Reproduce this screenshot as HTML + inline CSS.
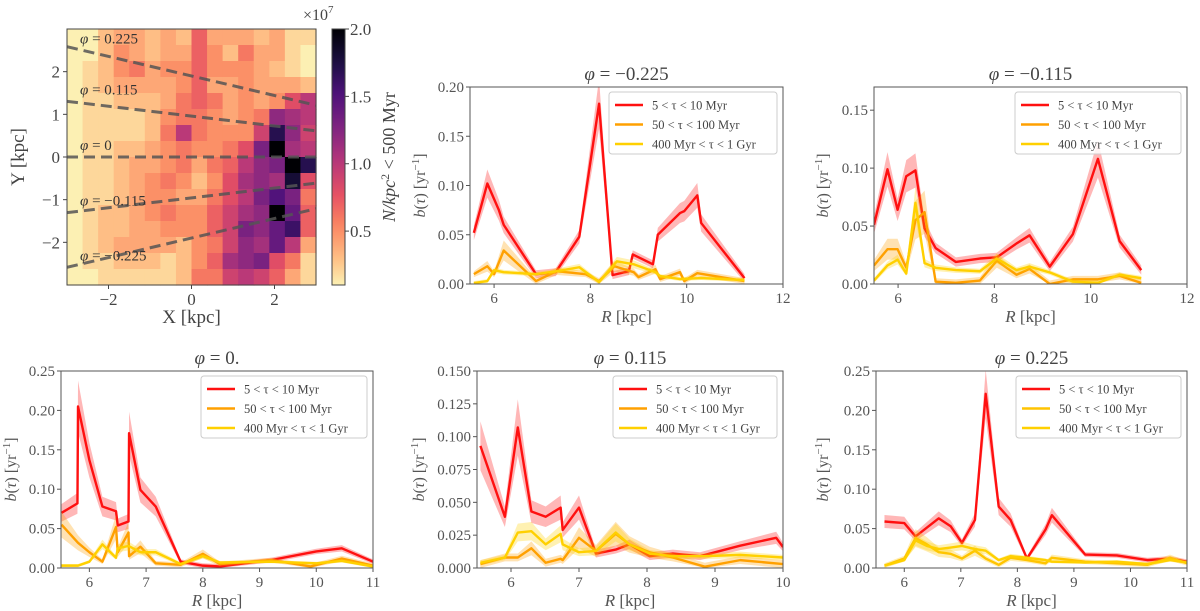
<!DOCTYPE html>
<html><head><meta charset="utf-8"><style>
html,body{margin:0;padding:0;background:#fff;}
svg{display:block;font-family:"Liberation Serif","DejaVu Serif",serif;}
</style></head><body>
<svg id="fig" width="1200" height="611" viewBox="0 0 1200 611" xmlns="http://www.w3.org/2000/svg"></svg>
<script>
// ---------- heatmap data (units of 1e6 N/kpc^2), rows top (Y=+3) to bottom (Y=-3), cols X=-3..3 ----------
const heatRows = [
[1,1,3,4,4,3,4,3,7,4,4,4,3,4,2,2],
[1,1,3,5,4,3,4,4,7,5,3,6,4,4,2,1],
[1,2,3,5,6,4,5,5,7,5,5,5,4,3,2,1],
[1,2,3,4,4,4,4,5,7,4,4,5,4,4,4,3],
[1,2,2,3,3,3,4,6,7,6,4,5,4,5,8,10],
[1,2,2,2,2,3,5,6,6,5,4,5,6,12,11,10],
[1,2,2,2,2,3,6,10,6,5,5,5,9,17,12,9],
[1,2,2,3,3,4,5,6,5,5,6,8,13,20,11,10],
[1,2,2,3,4,4,5,6,4,6,7,10,12,13,20,17],
[1,2,2,3,4,5,6,5,3,5,8,11,12,11,18,8],
[1,2,2,3,4,5,5,4,4,6,8,10,13,15,13,6],
[1,2,3,3,4,5,6,5,5,7,9,11,12,20,14,7],
[1,2,3,3,4,4,5,5,5,7,9,13,12,14,16,7],
[1,2,3,4,4,4,4,3,5,6,9,12,11,14,10,4],
[1,2,2,3,3,3,2,3,5,7,11,12,13,8,6,2],
[1,1,2,2,2,2,2,3,6,6,9,10,9,7,4,2]
];
const phiLines = [0.225,0.115,0,-0.115,-0.225];
const phiLabels = ["0.225","0.115","0","−0.115","−0.225"];
const heatXTicks = [-2,0,2];
const heatYTicks = [2,1,0,-1,-2];
const cbTicks = [0.5,1.0,1.5,2.0];

// ---------- panel A: phi = -0.225 ----------
const rA_red=[5.58,5.86,6.1,6.2,6.87,7.28,7.77,8.18,8.46,8.8,8.88,9.3,9.4,9.86,9.95,10.22,10.3,11.2];
const vA_red=[0.052,0.102,0.075,0.06,0.01,0.012,0.048,0.183,0.009,0.013,0.03,0.02,0.05,0.072,0.074,0.09,0.062,0.006];
const rA_or=[5.58,5.86,6.0,6.2,6.87,7.3,7.9,8.18,8.5,8.9,9.0,9.35,9.45,9.86,9.95,10.22,11.2];
const vA_or=[0.01,0.018,0.01,0.034,0.003,0.013,0.01,0.003,0.018,0.012,0.007,0.015,0.005,0.012,0.003,0.011,0.003];
const rA_ye=[5.58,5.86,6.0,6.2,6.87,7.3,7.77,8.18,8.55,8.9,9.35,9.45,9.86,10.3,11.2];
const vA_ye=[0.001,0.003,0.014,0.012,0.01,0.013,0.017,0.002,0.023,0.02,0.012,0.008,0.005,0.006,0.004];
// ---------- panel B: phi = -0.115 ----------
const rB=[5.5,5.78,5.99,6.17,6.36,6.55,6.78,7.2,7.7,8.05,8.46,8.73,9.15,9.63,10.15,10.6,11.05];
const vB_red=[0.051,0.099,0.064,0.093,0.098,0.048,0.031,0.019,0.022,0.023,0.035,0.042,0.015,0.043,0.108,0.037,0.012];
const vB_or=[0.016,0.03,0.03,0.014,0.055,0.062,0.002,0.001,0.003,0.02,0.008,0.013,0.0,0.004,0.004,0.007,0.001];
const vB_ye=[0.003,0.016,0.021,0.009,0.07,0.018,0.014,0.012,0.011,0.022,0.012,0.015,0.01,0.002,0.001,0.008,0.005];
// ---------- panel C: phi = 0 ----------
const rC_red=[5.51,5.79,5.8,6.0,6.23,6.47,6.5,6.69,6.7,6.9,7.17,7.61,8.0,8.3,9.2,10.0,10.45,11.0];
const vC_red=[0.07,0.082,0.205,0.137,0.078,0.072,0.054,0.059,0.171,0.099,0.078,0.008,0.003,0.002,0.01,0.021,0.025,0.008];
const rC_or=[5.51,5.8,6.0,6.23,6.47,6.5,6.69,6.7,6.9,7.17,7.61,8.0,8.3,9.2,9.9,10.45,11.0];
const vC_or=[0.055,0.032,0.02,0.008,0.052,0.02,0.045,0.015,0.027,0.006,0.004,0.018,0.005,0.01,0.002,0.012,0.003];
const rC_ye=[5.51,5.8,6.0,6.23,6.47,6.5,6.69,6.9,7.17,7.61,8.0,8.3,9.2,10.0,10.45,11.0];
const vC_ye=[0.003,0.003,0.008,0.03,0.013,0.025,0.028,0.02,0.02,0.005,0.015,0.007,0.008,0.006,0.009,0.002];
// ---------- panel D: phi = 0.115 ----------
const rD_red=[5.55,5.91,6.1,6.3,6.51,6.73,6.76,7.0,7.25,7.54,7.74,8.04,8.38,8.78,9.37,9.9,10.0];
const vD_red=[0.093,0.039,0.107,0.043,0.039,0.046,0.029,0.046,0.011,0.014,0.018,0.009,0.011,0.009,0.017,0.023,0.016];
const rD=[5.55,5.91,6.1,6.3,6.51,6.73,6.76,7.0,7.25,7.54,7.74,8.04,8.38,8.85,9.37,10.0];
const vD_or=[0.003,0.008,0.008,0.015,0.004,0.007,0.006,0.023,0.013,0.026,0.018,0.012,0.008,0.001,0.006,0.003];
const vD_ye=[0.004,0.008,0.027,0.028,0.018,0.026,0.018,0.012,0.013,0.027,0.018,0.011,0.009,0.009,0.01,0.008];
// ---------- panel E: phi = 0.225 ----------
const rE_red=[5.65,6.0,6.2,6.61,6.82,7.02,7.25,7.44,7.67,7.88,8.17,8.5,8.61,9.2,9.76,10.3,10.7,11.0];
const vE_red=[0.059,0.057,0.04,0.063,0.053,0.032,0.061,0.221,0.078,0.061,0.012,0.049,0.067,0.017,0.016,0.01,0.012,0.008];
const rE=[5.65,6.0,6.2,6.4,6.61,6.82,7.02,7.25,7.44,7.67,7.88,8.17,8.5,8.61,9.2,9.76,10.3,10.7,11.0];
const vE_or=[0.003,0.012,0.038,0.03,0.02,0.018,0.012,0.022,0.012,0.004,0.013,0.01,0.006,0.013,0.008,0.006,0.004,0.013,0.006];
const vE_ye=[0.003,0.01,0.035,0.028,0.024,0.026,0.028,0.024,0.022,0.01,0.015,0.013,0.01,0.008,0.007,0.008,0.005,0.01,0.007];

const yTicks20=[0,0.05,0.10,0.15,0.20]; const yLab20=["0.00","0.05","0.10","0.15","0.20"];
const yTicks15=[0,0.05,0.10,0.15]; const yLab15=["0.00","0.05","0.10","0.15"];
const yTicks25=[0,0.05,0.10,0.15,0.20,0.25]; const yLab25=["0.00","0.05","0.10","0.15","0.20","0.25"];
const yTicksD=[0,0.025,0.05,0.075,0.10,0.125,0.15]; const yLabD=["0.000","0.025","0.050","0.075","0.100","0.125","0.150"];
const xTicks12=[6,8,10,12]; const xTicks11=[6,7,8,9,10,11]; const xTicks10=[6,7,8,9,10];
const legendLabels=["5 < τ < 10 Myr","50 < τ < 100 Myr","400 Myr < τ < 1 Gyr"];

const NS='http://www.w3.org/2000/svg';
const svg=document.getElementById('fig');
function mk(tag,attrs,parent){const e=document.createElementNS(NS,tag);for(const k in attrs)e.setAttribute(k,attrs[k]);(parent||svg).appendChild(e);return e;}
function txt(s,attrs,parent){const e=mk('text',attrs,parent);e.textContent=s;return e;}

// ---------- magma_r colormap ----------
const magma=[[0,0,0,4],[0.13,28,16,68],[0.25,79,18,123],[0.38,129,37,129],[0.5,181,54,122],[0.63,229,80,100],[0.75,251,135,97],[0.88,254,194,135],[1,252,253,191]];
const CMIN=0.5, CMAX=20;
function cmap(v){let t=1-Math.max(0,Math.min(1,(v-CMIN)/(CMAX-CMIN)));
 for(let i=1;i<magma.length;i++){if(t<=magma[i][0]){const a=magma[i-1],b=magma[i],f=(t-a[0])/(b[0]-a[0]);
 return `rgb(${Math.round(a[1]+f*(b[1]-a[1]))},${Math.round(a[2]+f*(b[2]-a[2]))},${Math.round(a[3]+f*(b[3]-a[3]))})`;}}return 'rgb(252,253,191)';}

// ---------- heatmap panel ----------
(function(){
 const L=67,Rt=316,T=29,B=285;
 const hx=x=>L+(x+3)/6*(Rt-L), hy=y=>T+(3-y)/6*(B-T);
 const g=mk('g',{});
 
 
 const cw=(Rt-L)/16, ch=(B-T)/16;
 heatRows.forEach((row,i)=>row.forEach((v,j)=>{
  const r=mk('rect',{x:L+j*cw,y:T+i*ch,width:cw+0.6,height:ch+0.6,fill:cmap(v)},g);
  
  
 }));
 const clip=mk('clipPath',{id:'hclip'},g);mk('rect',{x:L,y:T,width:Rt-L,height:B-T},clip);
 const lg=mk('g',{'clip-path':'url(#hclip)'},g);
 phiLines.forEach((p,i)=>{
  const k=Math.tan(p), X0=8.3;
  const ln=mk('line',{x1:hx(-3),y1:hy(k*(X0+3)),x2:hx(3),y2:hy(k*(X0-3)),stroke:'#555',"stroke-opacity":0.85,'stroke-width':3,'stroke-dasharray':'11,6'},lg);
  
  
  const t=txt('',{x:80,y:hy(k*(X0+3))-7+(i==0?4:0),'font-size':15,fill:'#333'},g);
  t.innerHTML='<tspan font-style="italic">φ</tspan> = '+phiLabels[i];
  
  
 });
 const fr=mk('rect',{x:L,y:T,width:Rt-L,height:B-T,fill:'none',stroke:'#444','stroke-width':1},g);
 
 
 heatXTicks.forEach(v=>{mk('line',{x1:hx(v),x2:hx(v),y1:B,y2:B+4,stroke:'#444'},g);
  const t=txt(v<0?'−'+(-v):String(v),{x:hx(v),y:B+20,'font-size':17,'text-anchor':'middle',fill:'#444'},g);
  });
 heatYTicks.forEach(v=>{mk('line',{x1:L-4,x2:L,y1:hy(v),y2:hy(v),stroke:'#444'},g);
  const t=txt(v<0?'−'+(-v):String(v),{x:L-7,y:hy(v)+6,'font-size':17,'text-anchor':'end',fill:'#444'},g);
  });
 const xl=txt('X [kpc]',{x:(L+Rt)/2,y:323,'font-size':19,'text-anchor':'middle',fill:'#444'},g);
 
 const yl=txt('Y [kpc]',{x:0,y:0,'font-size':19,'text-anchor':'middle',fill:'#444',transform:`translate(24,${(T+B)/2}) rotate(-90)`},g);
 
 // colorbar
 const defs=mk('defs',{},g);const lgd=mk('linearGradient',{id:'cbg',x1:0,y1:1,x2:0,y2:0},defs);
 for(let i=0;i<=20;i++){const v=1+i*19/20;mk('stop',{offset:i/20,'stop-color':cmap(v)},lgd);}
 const cb=mk('rect',{x:332,y:T,width:13,height:B-T,fill:'url(#cbg)',stroke:'#444'},g);
 
 const cy=v=>B-(v*10-1)/(20-1)*(B-T);
 cbTicks.forEach(v=>{mk('line',{x1:345,x2:349,y1:cy(v),y2:cy(v),stroke:'#444'},g);
  const t=txt(v.toFixed(1),{x:350,y:cy(v)+6,'font-size':17,fill:'#444'},g);
  });
 const sc=txt('',{x:303,y:20,'font-size':16,fill:'#444'},g);
 sc.innerHTML='×10<tspan dy="-7" font-size="11">7</tspan>';
 
 const cl=txt('',{x:0,y:0,'font-size':18,'text-anchor':'middle',fill:'#444',transform:`translate(395,${(T+B)/2}) rotate(-90)`},g);
 cl.innerHTML='<tspan font-style="italic">N/kpc</tspan><tspan dy="-6" font-size="12">2</tspan><tspan dy="6"> &lt; 500 Myr</tspan>';
 
})();

// ---------- line panels ----------
function panel(c){
 const g=mk('g',{});
 
 
 const sx=x=>c.L+(x-c.xmin)/(c.xmax-c.xmin)*(c.R-c.L), sy=y=>c.B-y/c.ymax*(c.B-c.T);
 const cid='clip-'+c.name;const cp=mk('clipPath',{id:cid},g);mk('rect',{x:c.L,y:c.T,width:c.R-c.L,height:c.B-c.T},cp);
 const pg=mk('g',{'clip-path':`url(#${cid})`},g);
 c.series.forEach((s,si)=>{
  const err=s.v.map(v=>Math.max(s.ef*v,s.ea));
  const up=s.r.map((r,i)=>sx(r)+','+sy(s.v[i]+err[i]));
  const dn=s.r.map((r,i)=>sx(r)+','+sy(Math.max(0,s.v[i]-err[i]))).reverse();
  const band=mk('polygon',{points:up.concat(dn).join(' '),fill:s.col,'fill-opacity':0.3,stroke:'none'},pg);
  
  
  const ln=mk('polyline',{points:s.r.map((r,i)=>sx(r)+','+sy(s.v[i])).join(' '),fill:'none',stroke:s.col,'stroke-width':2.4,'stroke-linejoin':'round'},pg);
  
  
 });
 const fr=mk('rect',{x:c.L,y:c.T,width:c.R-c.L,height:c.B-c.T,fill:'none',stroke:'#555','stroke-width':1},g);
 
 c.xt.forEach(v=>{mk('line',{x1:sx(v),x2:sx(v),y1:c.B,y2:c.B+4,stroke:'#555'},g);
  const t=txt(String(v),{x:sx(v),y:c.B+19,'font-size':15,'text-anchor':'middle',fill:'#555'},g);
  });
 c.yt.forEach((v,i)=>{mk('line',{x1:c.L-4,x2:c.L,y1:sy(v),y2:sy(v),stroke:'#555'},g);
  const t=txt(c.yl[i],{x:c.L-6,y:sy(v)+5,'font-size':15,'text-anchor':'end',fill:'#555'},g);
  });
 const xl=txt('',{x:(c.L+c.R)/2,y:c.B+38,'font-size':17,'text-anchor':'middle',fill:'#555'},g);
 xl.innerHTML='<tspan font-style="italic">R</tspan> [kpc]';
 
 const yl=txt('',{x:0,y:0,'font-size':16,'text-anchor':'middle',fill:'#555',transform:`translate(${c.ylx},${(c.T+c.B)/2}) rotate(-90)`},g);
 yl.innerHTML='<tspan font-style="italic">b</tspan>(<tspan font-style="italic">τ</tspan>) [yr<tspan dy="-6" font-size="11">−1</tspan><tspan dy="6">]</tspan>';
 
 const ti=txt('',{x:(c.L+c.R)/2,y:c.T-7,'font-size':19,'text-anchor':'middle',fill:'#444'},g);
 ti.innerHTML='<tspan font-style="italic">φ</tspan> = '+c.title;
 
 const lgG=mk('g',{},g);
 
 
 mk('rect',{x:c.lx,y:c.T+5,width:c.R-c.lx-6,height:62,rx:3,fill:'#fff','fill-opacity':0.85,stroke:'#ccc'},lgG);
 c.series.forEach((s,si)=>{const y=c.T+18+si*19.5;
  const e=mk('g',{},lgG);
  
  
  mk('line',{x1:c.lx+6,x2:c.lx+34,y1:y,y2:y,stroke:s.col,'stroke-width':2.4},e);
  txt(legendLabels[si],{x:c.lx+43,y:y+4.5,'font-size':12.5,fill:'#444'},e);
 });
}
const RED='#ff1010',ORG='#ffa000',YEL='#ffd000';
panel({name:'panel-phi-m0225',title:'−0.225',L:470,R:783,T:87,B:284,xmin:5.5,xmax:12,ymax:0.2,xt:xTicks12,yt:yTicks20,yl:yLab20,ylx:425,lx:609,
 series:[{r:rA_red,v:vA_red,col:RED,ef:0.14,ea:0.004},{r:rA_or,v:vA_or,col:ORG,ef:0.3,ea:0.003},{r:rA_ye,v:vA_ye,col:YEL,ef:0.2,ea:0.002}]});
panel({name:'panel-phi-m0115',title:'−0.115',L:874,R:1187,T:87,B:284,xmin:5.5,xmax:12,ymax:0.17,xt:xTicks12,yt:yTicks15,yl:yLab15,ylx:828,lx:1015,
 series:[{r:rB,v:vB_red,col:RED,ef:0.15,ea:0.004},{r:rB,v:vB_or,col:ORG,ef:0.3,ea:0.003},{r:rB,v:vB_ye,col:YEL,ef:0.2,ea:0.002}]});
panel({name:'panel-phi-0',title:'0.',L:61,R:373,T:371,B:568,xmin:5.5,xmax:11,ymax:0.25,xt:xTicks11,yt:yTicks25,yl:yLab25,ylx:16,lx:201,
 series:[{r:rC_red,v:vC_red,col:RED,ef:0.16,ea:0.003},{r:rC_or,v:vC_or,col:ORG,ef:0.3,ea:0.003},{r:rC_ye,v:vC_ye,col:YEL,ef:0.2,ea:0.002}]});
panel({name:'panel-phi-0115',title:'0.115',L:477,R:783,T:371,B:568,xmin:5.5,xmax:10,ymax:0.15,xt:xTicks10,yt:yTicksD,yl:yLabD,ylx:424,lx:613,
 series:[{r:rD_red,v:vD_red,col:RED,ef:0.2,ea:0.003},{r:rD,v:vD_or,col:ORG,ef:0.35,ea:0.003},{r:rD,v:vD_ye,col:YEL,ef:0.25,ea:0.002}]});
panel({name:'panel-phi-0225',title:'0.225',L:876,R:1187,T:371,B:568,xmin:5.5,xmax:11,ymax:0.25,xt:xTicks11,yt:yTicks25,yl:yLab25,ylx:828,lx:1016,
 series:[{r:rE_red,v:vE_red,col:RED,ef:0.14,ea:0.003},{r:rE,v:vE_or,col:'#ffc400',ef:0.3,ea:0.003},{r:rE,v:vE_ye,col:YEL,ef:0.2,ea:0.002}]});
</script>
</body></html>
